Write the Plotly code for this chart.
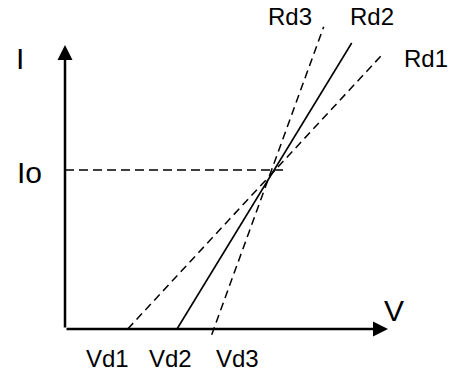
import plotly.graph_objects as go

# diagram coordinates: origin where the two axes meet, y going up
rd1_x = [62.7, 318.7]
rd1_y = [0, 276]
rd2_x = [112, 286.7]
rd2_y = [0, 286]
rd3_x = [146.7, 258.7]
rd3_y = [-5.7, 302.3]

io_x = [0, 218]
io_y = [159, 159]

axis_tip_x = 323
axis_tip_y = 284

line_labels = ["Rd3", "Rd2", "Rd1"]
line_label_x = [225, 307, 361]
line_label_y = [313, 313, 271]

volt_labels = ["Vd1", "Vd2", "Vd3"]
volt_label_x = [42, 105, 172]
volt_label_y = [-29, -29, -29]

FONT = "Liberation Sans, Arial, sans-serif"

fig = go.Figure()
fig.add_trace(go.Scatter(x=rd1_x, y=rd1_y, mode="lines",
                         line=dict(color="black", width=1.5, dash="8px,5px")))
fig.add_trace(go.Scatter(x=rd2_x, y=rd2_y, mode="lines",
                         line=dict(color="black", width=1.6)))
fig.add_trace(go.Scatter(x=rd3_x, y=rd3_y, mode="lines",
                         line=dict(color="black", width=1.5, dash="8px,5px")))
fig.add_trace(go.Scatter(x=io_x, y=io_y, mode="lines",
                         line=dict(color="black", width=1.5, dash="9px,5px")))

# axes with arrow heads
for tx, ty in [(axis_tip_x, 0), (0, axis_tip_y)]:
    fig.add_annotation(x=tx, y=ty, ax=0, ay=0, xref="x", yref="y",
                       axref="x", ayref="y", text="", showarrow=True,
                       arrowhead=2, arrowsize=1.2, arrowwidth=2.5,
                       arrowcolor="black", standoff=0)

for t, x, y in zip(line_labels, line_label_x, line_label_y):
    fig.add_annotation(x=x, y=y, text=t, showarrow=False,
                       font=dict(size=24, color="black", family=FONT))
for t, x, y in zip(volt_labels, volt_label_x, volt_label_y):
    fig.add_annotation(x=x, y=y, text=t, showarrow=False,
                       font=dict(size=24, color="black", family=FONT))

for t, x, y in [("I", -45, 271), ("Io", -36, 157), ("V", 329, 19)]:
    fig.add_annotation(x=x, y=y, text=t, showarrow=False,
                       font=dict(size=30, color="black", family=FONT))

fig.update_layout(
    width=462, height=376,
    margin=dict(l=0, r=0, t=0, b=0),
    paper_bgcolor="white", plot_bgcolor="white",
    showlegend=False,
    hovermode=False,
    xaxis=dict(range=[-65, 397], visible=False),
    yaxis=dict(range=[-47, 329], visible=False),
)

# drop the page's default body margin so the figure sits at the corner
fig.write_html("out.html", config={"displayModeBar": False},
               post_script="document.body.style.margin='0';")
